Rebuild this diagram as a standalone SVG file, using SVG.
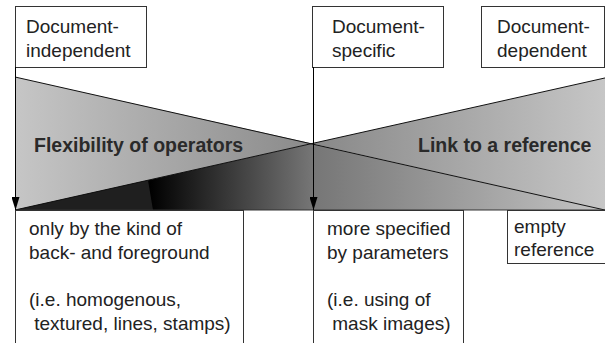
<svg xmlns="http://www.w3.org/2000/svg" width="605" height="343" viewBox="0 0 605 343">
<style>
.box{fill:#fff;stroke:#333;stroke-width:1}
.t{font-family:"Liberation Sans",Arial,sans-serif;font-size:19px;fill:#222}
.b{font-family:"Liberation Sans",Arial,sans-serif;font-size:19.5px;font-weight:bold;fill:#2a2a2a}
.edge{stroke:#111;stroke-width:1;fill:none}
</style>
<defs>
<linearGradient id="gL" gradientUnits="userSpaceOnUse" x1="15" y1="0" x2="313" y2="0">
<stop offset="0" stop-color="#c6c6c6"/><stop offset="1" stop-color="#8a8a8a"/>
</linearGradient>
<linearGradient id="gR" gradientUnits="userSpaceOnUse" x1="313" y1="0" x2="605" y2="0">
<stop offset="0" stop-color="#888"/><stop offset="1" stop-color="#c6c6c6"/>
</linearGradient>
<linearGradient id="gB" gradientUnits="userSpaceOnUse" x1="150" y1="0" x2="605" y2="0">
<stop offset="0" stop-color="#000"/><stop offset="0.358" stop-color="#767676"/><stop offset="1" stop-color="#c4c4c4"/>
</linearGradient>
<marker id="arr" viewBox="0 0 13 8" refX="13" refY="4" markerWidth="13" markerHeight="8" markerUnits="userSpaceOnUse" orient="auto">
<path d="M0,0 L13,4 L0,8 Z" fill="#000"/>
</marker>
</defs>

<g id="shading">
<polygon points="15,77 312,143.5 15,210" fill="url(#gL)"/>
<polygon points="312,143.5 605,78 605,210" fill="url(#gR)"/>
<polygon points="15,210 312,143.5 605,210" fill="url(#gB)"/>
<polygon points="15,210 148,180.3 153,210" fill="#1f1f1f"/>
<line class="edge" x1="15" y1="77" x2="607" y2="210.5"/>
<line class="edge" x1="15" y1="210" x2="607" y2="77.5"/>
</g>

<g id="n-independent">
<rect class="box" x="15.5" y="6.5" width="131" height="61"/>
<text class="t" x="26" y="33">Document-</text>
<text class="t" x="26" y="57">independent</text>
</g>
<g id="n-specific">
<rect class="box" x="312.5" y="6.5" width="131" height="61"/>
<text class="t" x="332" y="33">Document-</text>
<text class="t" x="332" y="57">specific</text>
</g>
<g id="n-dependent">
<rect class="box" x="481.5" y="6.5" width="123" height="61"/>
<text class="t" x="497" y="33">Document-</text>
<text class="t" x="497" y="57">dependent</text>
</g>

<g id="n-flex">
<text class="b" x="34" y="152">Flexibility of operators</text>
</g>
<g id="n-link">
<text class="b" x="418" y="152">Link to a reference</text>
</g>

<g id="n-only">
<rect class="box" x="15.5" y="210.5" width="228" height="140"/>
<text class="t" x="29" y="235">only by the kind of</text>
<text class="t" x="29" y="259">back- and foreground</text>
<text class="t" x="29" y="306">(i.e. homogenous,</text>
<text class="t" x="29" y="330" xml:space="preserve"> textured, lines, stamps)</text>
</g>
<g id="n-more">
<rect class="box" x="313.5" y="210.5" width="150" height="140"/>
<text class="t" x="327" y="235">more specified</text>
<text class="t" x="327" y="259">by parameters</text>
<text class="t" x="327" y="306">(i.e. using of</text>
<text class="t" x="327" y="330" xml:space="preserve"> mask images)</text>
</g>
<g id="n-empty">
<rect class="box" x="507.5" y="210.5" width="100" height="53"/>
<text class="t" x="514" y="233">empty</text>
<text class="t" x="514" y="256">reference</text>
</g>

<g id="connectors">
<line x1="15" y1="210" x2="605" y2="210" stroke="#333" stroke-width="1.2"/>
<line x1="15.5" y1="67" x2="15.5" y2="210" stroke="#000" stroke-width="1" marker-end="url(#arr)"/>
<line x1="313.5" y1="67" x2="313.5" y2="210" stroke="#000" stroke-width="1" marker-end="url(#arr)"/>
</g>
</svg>
